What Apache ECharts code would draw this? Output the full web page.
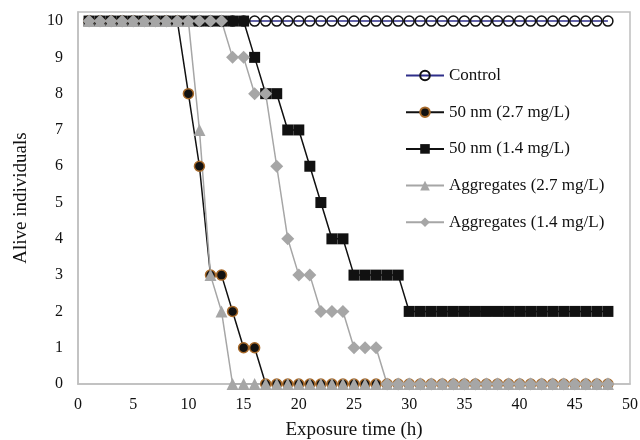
<!DOCTYPE html>
<html>
<head>
<meta charset="utf-8">
<script src="https://cdn.jsdelivr.net/npm/echarts@6/dist/echarts.min.js"></script>
<style>html,body{margin:0;padding:0;background:#fff}#c{width:640px;height:440px}</style>
</head>
<body>
<div id="c"></div>
<script>
const hours = [1,2,3,4,5,6,7,8,9,10,11,12,13,14,15,16,17,18,19,20,21,22,23,24,25,26,27,28,29,30,31,32,33,34,35,36,37,38,39,40,41,42,43,44,45,46,47,48];
const seriesNames = ['Control','50 nm (2.7 mg/L)','50 nm (1.4 mg/L)','Aggregates (2.7 mg/L)','Aggregates (1.4 mg/L)'];
const control   = [10,10,10,10,10,10,10,10,10,10,10,10,10,10,10,10,10,10,10,10,10,10,10,10,10,10,10,10,10,10,10,10,10,10,10,10,10,10,10,10,10,10,10,10,10,10,10,10];
const nm50_27   = [10,10,10,10,10,10,10,10,10,8,6,3,3,2,1,1,0,0,0,0,0,0,0,0,0,0,0,0,0,0,0,0,0,0,0,0,0,0,0,0,0,0,0,0,0,0,0,0];
const nm50_14   = [10,10,10,10,10,10,10,10,10,10,10,10,10,10,10,9,8,8,7,7,6,5,4,4,3,3,3,3,3,2,2,2,2,2,2,2,2,2,2,2,2,2,2,2,2,2,2,2];
const agg_27    = [10,10,10,10,10,10,10,10,10,10,7,3,2,0,0,0,0,0,0,0,0,0,0,0,0,0,0,0,0,0,0,0,0,0,0,0,0,0,0,0,0,0,0,0,0,0,0,0];
const agg_14    = [10,10,10,10,10,10,10,10,10,10,10,10,10,9,9,8,8,6,4,3,3,2,2,2,1,1,1,0,0,0,0,0,0,0,0,0,0,0,0,0,0,0,0,0,0,0,0,0];
const xTicks = [0,5,10,15,20,25,30,35,40,45,50];
const yTicks = [0,1,2,3,4,5,6,7,8,9,10];

const pairs = arr => hours.map((h,i)=>[h,arr[i]]);
const font = 'Liberation Serif';
const chart = echarts.init(document.getElementById('c'), null, {renderer:'canvas'});
const gray = '#a6a6a6';
chart.setOption({
  animation:false,
  backgroundColor:'#fff',
  textStyle:{fontFamily:font,color:'#111'},
  grid:{left:78,right:10,top:12,bottom:56,show:true,borderColor:'#bfbfbf',borderWidth:1.5,
    containLabel:false,outerBoundsMode:'none'},
  legend:{
    orient:'vertical', left:400, top:62, itemWidth:38, itemHeight:12, itemGap:19.7,
    textStyle:{fontFamily:font,fontSize:17,color:'#111'},
    data:seriesNames
  },
  xAxis:{
    type:'value', min:xTicks[0], max:xTicks[xTicks.length-1], interval:5,
    name:'Exposure time (h)', nameLocation:'middle', nameGap:36.5,
    nameTextStyle:{fontFamily:font,fontSize:19,color:'#111'},
    axisLine:{show:true,lineStyle:{color:'#bfbfbf',width:1.5}},
    axisTick:{show:false}, splitLine:{show:false},
    axisLabel:{fontFamily:font,fontSize:16,color:'#111',margin:13}
  },
  yAxis:{
    type:'value', min:yTicks[0], max:10.25, interval:1,
    name:'Alive individuals', nameLocation:'middle', nameGap:47, nameRotate:90,
    nameTextStyle:{fontFamily:font,fontSize:19,color:'#111'},
    axisLine:{show:true,lineStyle:{color:'#bfbfbf',width:1.5}},
    axisTick:{show:false}, splitLine:{show:false},
    axisLabel:{fontFamily:font,fontSize:16,color:'#111',margin:15,
      formatter:v=> yTicks.indexOf(v)>=0 ? String(v) : ''}
  },
  series:[
    {name:seriesNames[0],type:'line',data:pairs(control),symbol:'circle',symbolSize:10,
      lineStyle:{color:'#2f2f8a',width:1.5},
      itemStyle:{color:'rgba(255,255,255,0)',borderColor:'#111',borderWidth:1.5}},
    {name:seriesNames[1],type:'line',data:pairs(nm50_27),symbol:'circle',symbolSize:10,
      lineStyle:{color:'#111',width:1.5},
      itemStyle:{color:'#111',borderColor:'#a86a2a',borderWidth:1.5}},
    {name:seriesNames[2],type:'line',data:pairs(nm50_14),symbol:'rect',symbolSize:11,
      lineStyle:{color:'#111',width:1.5},
      itemStyle:{color:'#111'}},
    {name:seriesNames[3],type:'line',data:pairs(agg_27),symbol:'triangle',symbolSize:12,
      lineStyle:{color:gray,width:1.5},
      itemStyle:{color:gray}},
    {name:seriesNames[4],type:'line',data:pairs(agg_14),symbol:'diamond',symbolSize:13,
      lineStyle:{color:gray,width:1.5},
      itemStyle:{color:gray}}
  ]
});
</script>
</body>
</html>
